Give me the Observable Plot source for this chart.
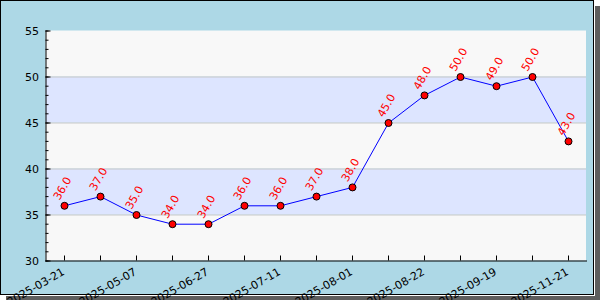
<!DOCTYPE html>
<html>
<head>
<meta charset="utf-8">
<script src="https://cdn.jsdelivr.net/npm/d3@7"></script>
<script src="https://cdn.jsdelivr.net/npm/@observablehq/plot@0.6"></script>
<style>
  html, body { margin: 0; padding: 0; background: #fff; }
  #wrap { position: relative; width: 600px; height: 300px; overflow: hidden; }
  #box {
    position: absolute; left: 0; top: 0;
    width: 592px; height: 293px;
    border: 1px solid #000;
    background: #add8e6;
    box-shadow: 1px 1px 0 #fff, 6px 6px 0 #5e5e5e;
  }
  #chart { position: absolute; left: 0; top: 0; }
</style>
</head>
<body>
<div id="wrap"><div id="box"></div><div id="chart"></div></div>
<script>
// Data
const values = [36, 37, 35, 34, 34, 36, 36, 37, 38, 45, 48, 50, 49, 50, 43];
const tickLabels = ["2025-03-21", "2025-05-07", "2025-06-27", "2025-07-11",
                    "2025-08-01", "2025-08-22", "2025-09-19", "2025-11-21"];
const yMajorTicks = [30, 35, 40, 45, 50, 55];
const yMinorTicks = d3.range(30, 56, 1);

const idx = d3.range(values.length);
const bands = yMajorTicks.slice(0, -1).map((y, i) => ({y1: y, y2: y + 5, k: i % 2}));

const width = 600, height = 300;
const mL = 45.5, mR = 14, mT = 30.5, mB = 39.5;
const plotW = width - mL - mR, plotH = height - mT - mB;
const font = "DejaVu Sans";

const chart = Plot.plot({
  width, height,
  marginLeft: mL, marginRight: mR, marginTop: mT, marginBottom: mB,
  style: {background: "transparent", fontFamily: font, fontSize: "11px", overflow: "visible"},
  x: {type: "point", domain: idx, padding: 0.5, axis: null},
  y: {domain: [30, 55], axis: null},
  marks: [
    Plot.rect(bands, {y1: "y1", y2: "y2", fill: d => d.k ? "#dde5ff" : "#f8f8f8"}),
    Plot.ruleY(yMajorTicks.slice(1, -1), {stroke: "#c8c8c8", strokeWidth: 1}),
    // y axis ticks (inside)
    Plot.tickY(yMinorTicks, {y: d => d, stroke: "#000", insetRight: plotW - 3}),
    Plot.tickY(yMajorTicks, {y: d => d, stroke: "#000", insetRight: plotW - 5}),
    // x axis ticks (inside)
    Plot.tickX(idx, {x: d => d, stroke: "#000", insetTop: plotH - 5}),
    Plot.ruleX([0], {x: () => -0.5, stroke: "#000"}),
    Plot.frame({anchor: "left", stroke: "#000"}),
    Plot.frame({anchor: "bottom", stroke: "#000"}),
    Plot.text(yMajorTicks, {y: d => d, frameAnchor: "left", text: d => String(d),
      textAnchor: "end", dx: -7, fill: "#000", fontSize: 11}),
    Plot.text(tickLabels, {x: (d, i) => i * 2, frameAnchor: "bottom", text: d => d,
      rotate: -30, textAnchor: "end", lineAnchor: "middle", dx: -1, dy: 10, fill: "#000", fontSize: 11}),
    Plot.line(values, {x: (d, i) => i, y: d => d, stroke: "blue", strokeWidth: 1}),
    Plot.dot(values, {x: (d, i) => i, y: d => d, r: 3.5, fill: "red", stroke: "#000", strokeWidth: 1}),
    Plot.text(values, {x: (d, i) => i, y: d => d, text: d => d.toFixed(1),
      rotate: -60, textAnchor: "start", lineAnchor: "bottom", dx: -5, dy: -5, fill: "red", fontSize: 11})
  ]
});
document.getElementById("chart").appendChild(chart);
</script>
</body>
</html>
